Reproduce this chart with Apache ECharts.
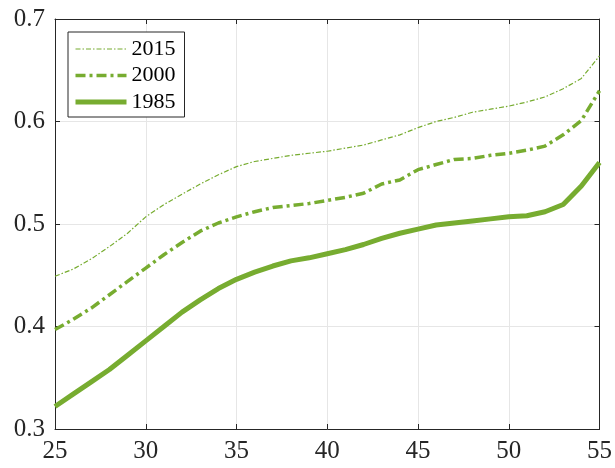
<!DOCTYPE html>
<html><head><meta charset="utf-8">
<script src="https://cdn.jsdelivr.net/npm/echarts@6/dist/echarts.min.js"></script>
<style>html,body{margin:0;padding:0;background:#fff}#c{width:615px;height:468px}</style>
</head><body><div id="c"></div>
<script>
var ages = [25,26,27,28,29,30,31,32,33,34,35,36,37,38,39,40,41,42,43,44,45,46,47,48,49,50,51,52,53,54,55];
var y2015 = [0.449,0.456,0.466,0.478,0.491,0.507,0.519,0.529,0.539,0.548,0.556,0.561,0.564,0.567,0.569,0.571,0.574,0.577,0.582,0.587,0.594,0.600,0.604,0.609,0.612,0.615,0.619,0.624,0.632,0.642,0.664];
var y2000 = [0.397,0.407,0.418,0.431,0.444,0.457,0.470,0.482,0.493,0.501,0.507,0.512,0.516,0.518,0.520,0.523,0.526,0.530,0.539,0.543,0.553,0.558,0.563,0.564,0.567,0.569,0.572,0.576,0.587,0.601,0.630];
var y1985 = [0.322,0.334,0.346,0.358,0.372,0.386,0.400,0.414,0.426,0.437,0.446,0.453,0.459,0.464,0.467,0.471,0.475,0.480,0.486,0.491,0.495,0.499,0.501,0.503,0.505,0.507,0.508,0.512,0.519,0.537,0.560];
var yTicks = {min:0.3, max:0.7, interval:0.1};
var xTicks = {min:25, max:55, interval:5};

function pairs(ys){ return ages.map(function(a,i){ return [a, ys[i]]; }); }
var green = '#77AC30', ink = '#262626', font = "'Liberation Serif', 'Times New Roman', 'DejaVu Serif', serif";
var styles = {
  '2015': {color:green, width:1.2, type:[5,2,1.5,2]},
  '2000': {color:green, width:3.5, type:[10,4,3,4]},
  '1985': {color:green, width:5, type:'solid'}
};
var chart = echarts.init(document.getElementById('c'), null, {renderer:'canvas'});
var axisCommon = {
  axisLine:{show:true, lineStyle:{color:ink, width:1}},
  axisTick:{show:true, inside:true, length:5, lineStyle:{color:ink, width:1}}
};
chart.setOption({
  animation:false,
  backgroundColor:'#fff',
  grid:{left:55, right:14, top:19, bottom:39},
  legend:{
    orient:'vertical', left:68, top:32,
    padding:[6,9,4,5], itemGap:4.5, itemWidth:51, itemHeight:14,
    backgroundColor:'#fff', borderColor:ink, borderWidth:1,
    itemStyle:{opacity:0},
    textStyle:{fontFamily:font, fontSize:22, color:'#000', lineHeight:22},
    data:['2015','2000','1985'].map(function(n){ return {name:n, lineStyle:{width:styles[n].width}}; })
  },
  xAxis:[
    Object.assign({type:'value', min:xTicks.min, max:xTicks.max, interval:xTicks.interval, position:'bottom',
      axisLabel:{fontFamily:font, fontSize:25, color:ink, margin:10},
      splitLine:{show:true, lineStyle:{color:'#e6e6e6', width:1}}}, axisCommon),
    Object.assign({type:'value', min:xTicks.min, max:xTicks.max, interval:xTicks.interval, position:'top',
      axisLabel:{show:false}, splitLine:{show:false}}, axisCommon)
  ],
  yAxis:[
    Object.assign({type:'value', min:yTicks.min, max:yTicks.max, interval:yTicks.interval, position:'left',
      axisLabel:{fontFamily:font, fontSize:25, color:ink, margin:10, formatter:function(v){return v.toFixed(1);}},
      splitLine:{show:true, lineStyle:{color:'#e6e6e6', width:1}}}, axisCommon),
    Object.assign({type:'value', min:yTicks.min, max:yTicks.max, interval:yTicks.interval, position:'right',
      axisLabel:{show:false}, splitLine:{show:false}}, axisCommon)
  ],
  series:[
    {name:'2015', type:'line', data:pairs(y2015), symbol:'none', z:3, lineStyle:styles['2015'], itemStyle:{color:green}},
    {name:'2000', type:'line', data:pairs(y2000), symbol:'none', z:3, lineStyle:styles['2000'], itemStyle:{color:green}},
    {name:'1985', type:'line', data:pairs(y1985), symbol:'none', z:3, lineStyle:styles['1985'], itemStyle:{color:green}}
  ]
});
</script></body></html>
